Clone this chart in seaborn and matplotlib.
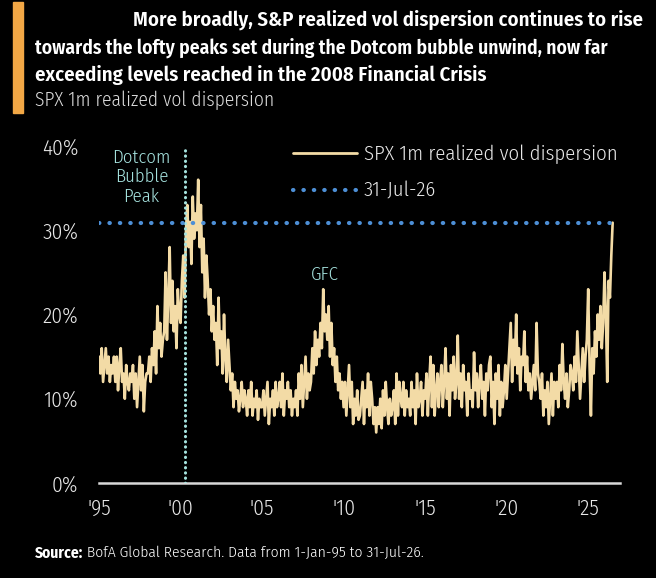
import numpy as np
import pandas as pd
import seaborn as sns
import matplotlib.pyplot as plt
from matplotlib.patches import Rectangle
from matplotlib.lines import Line2D

sns.set_style('dark', {'axes.facecolor': 'black', 'figure.facecolor': 'black'})
plt.rcParams['font.family'] = ['Fira Sans Condensed', 'DejaVu Sans']

# monthly SPX 1m realized vol dispersion, %, Jan-95 .. Jul-26
vol_1995 = [15, 13, 16, 12, 14, 16, 13, 15, 12, 14, 13, 15]
vol_1996 = [12, 15, 11, 14, 16, 12, 13, 10, 14, 12, 11, 13]
vol_1997 = [12, 14, 10, 13, 9, 12, 15, 11, 14, 8.5, 12, 13]
vol_1998 = [13, 15, 12, 16, 14, 18, 13, 21, 16, 19, 15, 17]
vol_1999 = [18, 25, 17, 22, 28, 19, 24, 18, 21, 16, 23, 20]
vol_2000 = [19, 24, 27, 22, 30, 33, 28, 31, 26, 34, 29, 32]
vol_2001 = [30, 36, 28, 33, 25, 29, 22, 27, 24, 20, 23, 18]
vol_2002 = [21, 17, 19, 14, 22, 16, 18, 13, 20, 15, 12, 17]
vol_2003 = [14, 11, 13, 9, 12, 10, 11, 8.5, 10, 12, 9, 11]
vol_2004 = [10, 8, 11, 9, 12, 8, 10, 9, 11, 7.5, 10, 9]
vol_2005 = [9, 11, 8, 10, 12, 7, 10, 9, 11, 8, 12, 9]
vol_2006 = [10, 12, 9, 13, 8, 11, 10, 12, 9, 11, 8, 10]
vol_2007 = [9, 11, 8, 13, 10, 14, 9, 12, 15, 10, 13, 11]
vol_2008 = [12, 16, 13, 18, 14, 17, 15, 19, 16, 23, 18, 20]
vol_2009 = [17, 21, 15, 19, 14, 16, 12, 15, 11, 13, 10, 12]
vol_2010 = [9, 12, 8, 11, 14, 9, 12, 7, 10, 8, 11, 7.5]
vol_2011 = [8, 10, 12, 7, 11, 9, 13, 8, 12, 10, 7, 9]
vol_2012 = [6, 9, 7, 10, 6.5, 11, 8, 12, 9, 7, 10, 8]
vol_2013 = [9, 11, 7, 13, 8, 12, 10, 9, 12, 8, 11, 9]
vol_2014 = [10, 8, 12, 9, 11, 7, 13, 9, 10, 12, 8, 11]
vol_2015 = [10, 13, 8, 12, 15, 9, 14, 8, 11, 13, 9, 12]
vol_2016 = [14, 9, 12, 16, 10, 13, 8, 14, 11, 15, 10, 12]
vol_2017 = [17.5, 10, 13, 9, 14, 11, 12, 8, 13, 10, 11, 9]
vol_2018 = [15.5, 11, 13, 9, 12, 14, 10, 12, 8, 13, 11, 14]
vol_2019 = [15, 9, 12, 7, 13, 10, 14, 8, 12, 9, 11, 14]
vol_2020 = [10, 13, 16, 19, 12, 17, 14, 20, 13, 16, 11, 15]
vol_2021 = [14, 18, 12, 15, 11, 13, 10, 12, 14, 11, 19, 13]
vol_2022 = [12, 10, 13, 8, 11, 9, 12, 7, 10, 13, 8, 12]
vol_2023 = [10, 12, 9, 14, 11, 16.5, 12, 10, 13, 9, 11, 14]
vol_2024 = [13, 11, 15, 12, 18, 14, 10, 13, 16, 12, 15, 17]
vol_2025 = [23, 14, 8, 16, 13, 18, 15, 20, 17, 21, 16, 19]
vol_2026 = [25, 20, 12, 24, 22, 27, 30.9]

dotcom_peak = 2000.25
year_ticks = [1995, 2000, 2005, 2010, 2015, 2020, 2025]
year_labels = ["'95", "'00", "'05", "'10", "'15", "'20", "'25"]
pct_ticks = [0, 10, 20, 30, 40]

values = (vol_1995 + vol_1996 + vol_1997 + vol_1998 + vol_1999 + vol_2000 + vol_2001
          + vol_2002 + vol_2003 + vol_2004 + vol_2005 + vol_2006 + vol_2007 + vol_2008
          + vol_2009 + vol_2010 + vol_2011 + vol_2012 + vol_2013 + vol_2014 + vol_2015
          + vol_2016 + vol_2017 + vol_2018 + vol_2019 + vol_2020 + vol_2021 + vol_2022
          + vol_2023 + vol_2024 + vol_2025 + vol_2026)
dates = pd.date_range('1995-01-31', periods=len(values), freq='ME')
df = pd.DataFrame({'year': dates.year + (dates.month - 1) / 12, 'vol': values})

line_col = '#f3dba6'
hline_col = '#4d8fd6'
vline_col = '#a6e3df'
txt_col = '#e8e8e8'

fig = plt.figure(figsize=(6.56, 5.78), dpi=100)
ax = fig.add_axes([99 / 656, 1 - 483 / 578, 521 / 656, 337 / 578])

ax.axvline(dotcom_peak, ymin=0, ymax=1, color=vline_col, lw=2.2,
           ls=(0, (0.1, 1.6)), dash_capstyle='round', zorder=3)
sns.lineplot(data=df, x='year', y='vol', ax=ax, color=line_col, lw=1.9, zorder=2)
last = df['vol'].iloc[-1]
ax.hlines(last, df['year'].iloc[0], df['year'].iloc[-1], color=hline_col, lw=3,
          ls=(0, (0.1, 2.4)), capstyle='round', zorder=4)

ax.set_xlim(1995.05, 2026.95)
ax.set_ylim(0, 40)
ax.set_xticks(year_ticks, year_labels)
ax.set_yticks(pct_ticks, [f'{v}%' for v in pct_ticks])
ax.set(xlabel='', ylabel='')
ax.grid(False)
ax.tick_params(axis='both', length=0, colors=txt_col, labelsize=15.5)
ax.tick_params(axis='x', pad=11)
ax.tick_params(axis='y', pad=15)
for lab in ax.get_xticklabels() + ax.get_yticklabels():
    lab.set_fontweight(300)
for s in ['top', 'right', 'left']:
    ax.spines[s].set_visible(False)
ax.spines['bottom'].set_color('#d9d9d9')
ax.spines['bottom'].set_linewidth(1.8)

ax.text(1997.6, 36.3, 'Dotcom\nBubble\nPeak', color=vline_col, fontsize=13.5,
        fontweight=300, ha='center', va='center', linespacing=1.12)
ax.text(2008.85, 24.7, 'GFC', color=vline_col, fontsize=13.5, fontweight=300,
        ha='center', va='center')

handles = [Line2D([], [], color=line_col, lw=2),
           Line2D([], [], color=hline_col, lw=3, ls=(0, (0.1, 2.4)), dash_capstyle='round')]
leg = ax.legend(handles, ['SPX 1m realized vol dispersion', '31-Jul-26'],
                loc='upper left', bbox_to_anchor=(0.372, 1.005), frameon=False,
                prop={'size': 14.9, 'weight': 300}, handlelength=3.1, handletextpad=0.32,
                labelspacing=0.85, borderpad=0, borderaxespad=0)
for t in leg.get_texts():
    t.set_color(txt_col)

# header
fig.patches.append(Rectangle((13 / 656, 1 - 113 / 578), 10 / 656, 111 / 578,
                             transform=fig.transFigure, color='#f2a745', zorder=5))
title_kw = dict(color='white', fontweight=600, va='center')
fig.text(133 / 656, 1 - 20 / 578, 'More broadly, S&P realized vol dispersion continues to rise',
         fontsize=14.9, **title_kw)
fig.text(35 / 656, 1 - 48 / 578,
         'towards the lofty peaks set during the Dotcom bubble unwind, now far',
         fontsize=14.1, **title_kw)
fig.text(35 / 656, 1 - 75 / 578, 'exceeding levels reached in the 2008 Financial Crisis',
         fontsize=14.9, **title_kw)
fig.text(35 / 656, 1 - 100 / 578, 'SPX 1m realized vol dispersion',
         color='#dcdcdc', fontsize=14, fontweight=300, va='center')

src = fig.text(35 / 656, 1 - 553 / 578, 'Source:', color='white', fontsize=11.2,
               fontweight=700, va='center')
ax.annotate(' BofA Global Research. Data from 1-Jan-95 to 31-Jul-26.',
            xy=(1, 0.5), xycoords=src, va='center', ha='left',
            color='white', fontsize=11.2, fontweight=300, annotation_clip=False)

fig.savefig('out.png', dpi=100, facecolor='black')
